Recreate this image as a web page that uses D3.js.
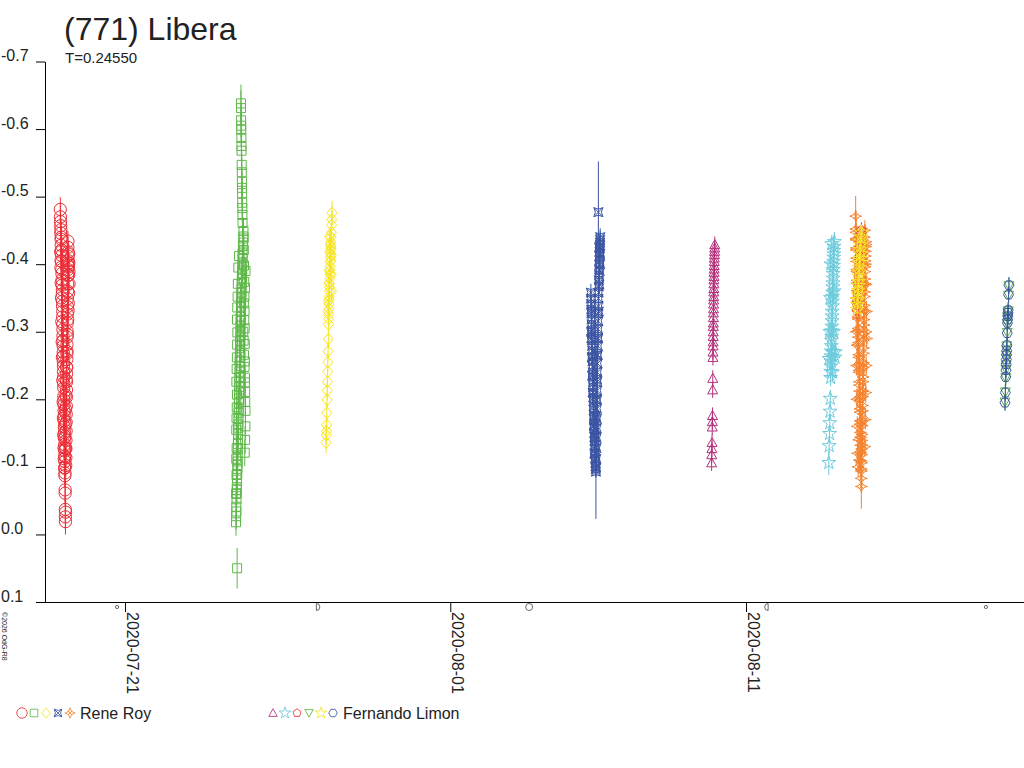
<!DOCTYPE html>
<meta charset="utf-8">
<style>
  body { margin: 0; background: #fff; }
  svg text { font-family: "Liberation Sans", Arial, sans-serif; fill: #222; }
  .bar { stroke-width: 1; }
  .pt { fill: none; stroke-width: 1; }
</style>
<svg width="1024" height="768"></svg>
<script src="https://d3js.org/d3.v7.min.js"></script>
<script>
  // ---- data: [hours after session start, relative magnitude, error] ----
  var title = "(771) Libera";
  var periodLabel = "T=0.24550";
  var observers = ["Rene Roy", "Fernando Limon"];
  var yTicks = [-0.7, -0.6, -0.5, -0.4, -0.3, -0.2, -0.1, 0.0, 0.1];
  var xTicks = ["2020-07-21", "2020-08-01", "2020-08-11"];
  var moonDates = ["2020-07-20T17:33Z", "2020-07-27T12:32Z", "2020-08-03T15:59Z", "2020-08-11T16:45Z", "2020-08-19T02:41Z"];
  var moonPhases = ["new", "first", "full", "last", "new"];

  var sessionStarts = ["2020-07-18T19:00Z", "2020-07-24T18:00Z", "2020-07-27T19:00Z", "2020-08-05T18:00Z", "2020-08-14T17:00Z",
                       "2020-08-09T20:00Z", "2020-08-13T19:00Z", "2020-08-14T18:00Z", "2020-08-19T18:00Z", "2020-08-14T18:00Z", "2020-08-19T18:00Z"];

  var roy1 = [[0.5,-0.481,.018],[0.6,-0.470,.017],[0.7,-0.463,.016],[0.8,-0.457,.016],[0.9,-0.446,.015],[1.0,-0.451,.016],[1.1,-0.437,.015],[1.2,-0.428,.015],
    [1.3,-0.440,.016],[1.4,-0.421,.015],[1.5,-0.413,.014],[1.6,-0.404,.015],[1.7,-0.392,.014],[1.8,-0.386,.015],[1.9,-0.377,.014],[2.0,-0.369,.014],
    [2.1,-0.356,.015],[2.15,-0.362,.014],[2.2,-0.345,.014],[2.3,-0.338,.015],[2.4,-0.322,.014],[2.45,-0.330,.015],[2.5,-0.311,.014],[2.6,-0.303,.015],
    [2.65,-0.294,.014],[2.7,-0.287,.014],[2.8,-0.279,.015],[2.85,-0.270,.014],[2.9,-0.264,.015],[3.0,-0.255,.014],[3.05,-0.249,.015],[3.1,-0.241,.014],
    [3.2,-0.233,.015],[3.25,-0.224,.014],[3.3,-0.217,.015],[3.4,-0.205,.015],[3.45,-0.199,.014],[3.5,-0.192,.015],[3.6,-0.183,.015],[3.65,-0.176,.015],
    [3.7,-0.168,.016],[3.8,-0.159,.015],[3.85,-0.151,.016],[3.9,-0.142,.016],[4.0,-0.133,.016],[4.05,-0.124,.016],[4.1,-0.116,.017],[4.2,-0.108,.016],
    [4.25,-0.099,.017],[4.3,-0.091,.017],[4.4,-0.066,.018],[4.45,-0.061,.018],[4.55,-0.037,.019],[4.6,-0.026,.019],[4.7,-0.019,.019],[4.8,-0.033,.018],
    [4.9,-0.102,.017],[5.0,-0.114,.016],[5.05,-0.127,.016],[5.1,-0.139,.016],[5.2,-0.153,.016],[5.25,-0.166,.015],[5.3,-0.178,.015],[5.4,-0.190,.015],
    [5.45,-0.203,.015],[5.5,-0.214,.015],[5.6,-0.226,.014],[5.65,-0.238,.014],[5.7,-0.247,.015],[5.8,-0.259,.014],[5.85,-0.268,.014],[5.9,-0.281,.014],
    [6.0,-0.292,.014],[6.05,-0.301,.014],[6.1,-0.313,.014],[6.2,-0.326,.014],[6.25,-0.337,.014],[6.3,-0.349,.014],[6.4,-0.360,.014],[6.45,-0.371,.014],
    [6.5,-0.383,.014],[6.6,-0.392,.015],[6.7,-0.401,.014],[6.8,-0.412,.015],[6.9,-0.418,.015],[7.0,-0.405,.014],[7.1,-0.396,.015],[7.2,-0.384,.015],
    [1.0,-0.395,.015],[1.2,-0.372,.015],[1.5,-0.350,.015],[1.7,-0.315,.015],[2.0,-0.285,.015],[2.2,-0.262,.015],[2.5,-0.228,.015],[2.8,-0.196,.015],
    [3.0,-0.172,.015],[3.3,-0.147,.016],[3.5,-0.128,.016],[3.7,-0.112,.016],[6.6,-0.425,.015],[6.7,-0.434,.015],[6.9,-0.398,.015],[7.3,-0.415,.015],
    [7.4,-0.402,.015],[7.5,-0.389,.015],[7.6,-0.371,.015],[7.3,-0.357,.015],[7.0,-0.342,.015],[6.8,-0.331,.015],[6.5,-0.318,.015],[6.2,-0.296,.015],
    [5.9,-0.271,.015],[5.5,-0.248,.015],[5.3,-0.229,.015],[5.0,-0.206,.015],[4.7,-0.185,.016],[4.5,-0.163,.016],[4.3,-0.145,.016],[4.6,-0.128,.016],
    [4.0,-0.098,.017],[4.2,-0.087,.017],[0.8,-0.418,.015],[1.1,-0.405,.015]];

  var roy2 = [[0.1,-0.018,.02],[0.2,-0.027,.02],[0.3,-0.041,.02],[0.4,-0.034,.02],[0.5,-0.052,.02],[0.6,-0.061,.02],[0.7,-0.070,.02],[0.8,-0.066,.02],
    [0.9,-0.081,.02],[1.0,0.050,.03],[1.1,-0.089,.02],[1.2,-0.097,.02],[1.3,-0.108,.02],[1.35,-0.103,.02],[1.45,-0.117,.02],[1.55,-0.126,.02],
    [1.6,-0.134,.02],[1.7,-0.141,.02],[1.8,-0.149,.02],[1.9,-0.158,.02],[2.0,-0.163,.02],[2.1,-0.171,.02],[2.2,-0.180,.02],[2.3,-0.186,.02],
    [2.4,-0.195,.02],[2.5,-0.201,.02],[2.6,-0.210,.02],[2.7,-0.218,.02],[2.75,-0.226,.02],[2.85,-0.233,.02],[2.95,-0.241,.02],[3.05,-0.249,.02],
    [3.1,-0.256,.02],[3.2,-0.263,.02],[3.3,-0.271,.02],[3.4,-0.279,.02],[3.5,-0.286,.02],[3.55,-0.293,.02],[3.65,-0.301,.02],[3.75,-0.309,.02],
    [4.1,-0.638,.028],[4.15,-0.631,.026],[4.2,-0.613,.025],[4.3,-0.605,.025],[4.35,-0.599,.025],[4.45,-0.587,.024],[4.5,-0.575,.024],[4.6,-0.568,.024],
    [4.7,-0.547,.023],[4.8,-0.536,.023],[4.85,-0.522,.022],[4.95,-0.513,.022],[5.0,-0.505,.022],[5.1,-0.491,.022],[5.2,-0.483,.021],[5.3,-0.473,.021],
    [5.4,-0.461,.021],[3.85,-0.316,.02],[3.95,-0.322,.02],[4.05,-0.330,.02],[4.15,-0.337,.02],[4.25,-0.343,.02],[4.35,-0.351,.02],[4.5,-0.358,.02],
    [4.6,-0.364,.02],[4.7,-0.372,.02],[4.85,-0.379,.02],[5.0,-0.385,.02],[5.1,-0.392,.02],[5.25,-0.401,.02],[5.4,-0.416,.02],[5.55,-0.409,.02],
    [5.7,-0.427,.02],[5.85,-0.432,.02],[6.0,-0.441,.02],[6.15,-0.449,.02],[6.3,-0.438,.02],[6.45,-0.421,.02],[6.6,-0.398,.02],[6.75,-0.374,.02],
    [6.9,-0.352,.02],[7.0,-0.331,.02],[7.1,-0.305,.02],[7.2,-0.282,.02],[7.3,-0.256,.02],[7.4,-0.232,.02],[7.5,-0.211,.02],
    [0.3,-0.155,.02],[0.5,-0.172,.02],[0.7,-0.188,.02],[0.9,-0.207,.02],[0.4,-0.226,.02],[0.6,-0.245,.02],[0.8,-0.262,.02],[1.0,-0.281,.02],
    [1.2,-0.299,.02],[0.9,-0.318,.02],[1.1,-0.336,.02],[1.4,-0.352,.02],[1.6,-0.371,.02],[6.0,-0.300,.02],[6.3,-0.287,.02],[6.6,-0.266,.02],
    [7.0,-0.248,.02],[7.3,-0.225,.02],[7.6,-0.196,.02],[7.8,-0.183,.02],[7.7,-0.160,.02],[7.5,-0.140,.02],[7.2,-0.121,.02],[6.8,-0.317,.02],
    [6.5,-0.342,.02],[7.4,-0.365,.02],[7.8,-0.390,.02],[0.2,-0.060,.02],[0.5,-0.088,.02],[0.3,-0.112,.02],[0.6,-0.128,.02],[2.0,-0.395,.02],
    [2.5,-0.412,.02]];

  var roy3 = [[0.1,-0.136,.016],[0.3,-0.147,.015],[0.45,-0.153,.015],[0.6,-0.162,.015],[0.8,-0.180,.015],[1.0,-0.199,.014],[1.15,-0.213,.014],
    [1.3,-0.226,.014],[1.45,-0.241,.014],[1.6,-0.255,.014],[1.8,-0.271,.014],[2.0,-0.289,.014],[2.15,-0.311,.013],[2.25,-0.319,.013],[2.35,-0.326,.013],
    [2.45,-0.334,.013],[2.55,-0.341,.013],[2.65,-0.348,.013],[2.75,-0.352,.013],[2.85,-0.360,.013],[2.95,-0.366,.013],[3.05,-0.371,.013],[3.15,-0.379,.013],
    [3.25,-0.385,.013],[3.35,-0.392,.013],[3.45,-0.397,.013],[3.55,-0.404,.013],[3.65,-0.410,.013],[3.75,-0.416,.013],[3.85,-0.421,.013],[3.95,-0.427,.013],
    [4.05,-0.433,.013],[4.15,-0.440,.013],[4.25,-0.424,.013],[4.35,-0.413,.013],[4.5,-0.447,.014],[4.65,-0.458,.014],[4.8,-0.466,.015],[5.0,-0.476,.018],
    [2.0,-0.345,.013],[2.4,-0.372,.013],[2.8,-0.390,.013],[3.2,-0.418,.013],[3.6,-0.430,.013],[4.0,-0.405,.013],[4.4,-0.385,.013],[1.8,-0.330,.013],
    [4.6,-0.360,.013],[3.0,-0.441,.013]];

  var roy4 = [[0.1,-0.358,.013],[0.2,-0.349,.013],[0.3,-0.341,.013],[0.4,-0.333,.013],[0.5,-0.327,.013],[0.6,-0.318,.013],[0.7,-0.311,.013],
    [0.8,-0.302,.013],[0.9,-0.296,.013],[1.0,-0.287,.013],[1.1,-0.279,.013],[1.2,-0.272,.013],[1.3,-0.263,.013],[1.4,-0.256,.013],[1.5,-0.248,.013],
    [1.6,-0.240,.013],[1.7,-0.233,.013],[1.8,-0.225,.013],[1.9,-0.218,.013],[2.0,-0.210,.013],[2.1,-0.203,.013],[2.2,-0.197,.013],[2.3,-0.190,.013],
    [2.4,-0.184,.013],[2.5,-0.176,.013],[2.6,-0.170,.013],[2.7,-0.163,.013],[2.8,-0.157,.013],[2.9,-0.150,.013],[3.0,-0.144,.013],[3.1,-0.138,.013],
    [3.2,-0.131,.013],[3.3,-0.126,.013],[3.45,-0.119,.013],[3.6,-0.112,.013],[3.75,-0.106,.013],[3.9,-0.101,.013],[4.05,-0.097,.013],[4.2,-0.093,.07],
    [4.35,-0.099,.013],[4.5,-0.112,.013],[4.6,-0.128,.013],[4.7,-0.143,.013],[4.8,-0.157,.013],[4.9,-0.171,.013],[5.0,-0.186,.013],[5.1,-0.199,.013],
    [5.2,-0.213,.013],[5.3,-0.226,.013],[5.4,-0.240,.013],[5.5,-0.253,.013],[5.6,-0.266,.013],[5.7,-0.279,.013],[5.8,-0.291,.013],[5.9,-0.304,.013],
    [6.0,-0.316,.013],[6.1,-0.327,.013],[6.2,-0.338,.013],[6.3,-0.349,.013],[6.4,-0.358,.013],[6.5,-0.367,.013],[6.6,-0.376,.013],[6.7,-0.384,.013],
    [6.8,-0.392,.013],[6.9,-0.399,.013],[7.0,-0.406,.013],[7.1,-0.412,.013],[7.2,-0.418,.013],[7.3,-0.423,.013],[7.4,-0.428,.013],[7.5,-0.432,.013],
    [7.6,-0.436,.013],[7.7,-0.440,.013],[6.2,-0.477,.075],
    [0.5,-0.290,.013],[0.8,-0.262,.013],[1.2,-0.235,.013],[1.5,-0.210,.013],[1.0,-0.330,.013],[0.3,-0.300,.013],[2.5,-0.160,.013],[3.0,-0.120,.013],
    [3.5,-0.145,.013],[4.0,-0.175,.013],[4.5,-0.200,.013],[5.0,-0.230,.013],[5.5,-0.265,.013],[6.0,-0.290,.013],[6.5,-0.330,.013],[7.0,-0.370,.013],
    [7.5,-0.400,.013],[7.2,-0.390,.013],[6.8,-0.425,.013],[7.6,-0.415,.013]];

  var roy5 = [[0.0,-0.471,.03],[0.1,-0.452,.025],[0.2,-0.447,.02],[0.3,-0.436,.025],[0.4,-0.438,.015],[0.5,-0.421,.015],[0.6,-0.424,.015],[0.7,-0.409,.015],
    [0.8,-0.404,.015],[0.9,-0.392,.015],[1.0,-0.389,.015],[1.1,-0.376,.015],[1.2,-0.372,.015],[1.3,-0.361,.015],[1.4,-0.358,.015],[1.5,-0.343,.015],
    [1.6,-0.345,.015],[1.7,-0.331,.015],[1.8,-0.322,.015],[1.9,-0.319,.015],[2.0,-0.305,.015],[2.1,-0.301,.015],[2.2,-0.292,.015],[2.3,-0.284,.015],
    [2.4,-0.281,.015],[2.5,-0.266,.015],[2.6,-0.262,.015],[2.7,-0.251,.015],[2.8,-0.243,.015],[2.9,-0.240,.015],[3.0,-0.226,.015],[3.1,-0.221,.015],
    [3.2,-0.212,.015],[3.3,-0.203,.015],[3.4,-0.199,.015],[3.5,-0.186,.015],[3.6,-0.181,.015],[3.7,-0.168,.015],[3.8,-0.163,.015],[3.9,-0.151,.015],
    [4.0,-0.144,.015],[4.1,-0.132,.015],[4.2,-0.121,.015],[4.3,-0.109,.015],[4.4,-0.097,.016],[4.5,-0.083,.018],[4.6,-0.071,.033],[4.7,-0.094,.016],
    [4.8,-0.106,.015],[4.9,-0.118,.015],[5.0,-0.127,.015],[5.1,-0.139,.015],[5.2,-0.148,.015],[5.3,-0.161,.015],[5.4,-0.169,.015],[5.5,-0.183,.015],
    [5.6,-0.191,.015],[5.7,-0.204,.015],[5.8,-0.212,.015],[5.9,-0.226,.015],[6.0,-0.233,.015],[6.1,-0.247,.015],[6.2,-0.254,.015],[6.3,-0.268,.015],
    [6.4,-0.276,.015],[6.5,-0.289,.015],[6.6,-0.297,.015],[6.7,-0.310,.015],[6.8,-0.318,.015],[6.9,-0.331,.015],[7.0,-0.339,.015],[7.1,-0.352,.015],
    [7.2,-0.359,.015],[7.3,-0.371,.015],[7.4,-0.378,.015],[7.5,-0.389,.015],[7.6,-0.396,.02],[7.7,-0.405,.02],[7.8,-0.412,.025],[7.9,-0.419,.02],
    [8.0,-0.426,.025],[8.2,-0.433,.02],[8.4,-0.429,.015],
    [0.5,-0.300,.015],[0.8,-0.250,.015],[1.0,-0.200,.015],[1.3,-0.160,.015],[1.6,-0.120,.015],[2.0,-0.100,.015],[0.3,-0.350,.015],[1.2,-0.280,.015],
    [2.5,-0.140,.015],[3.0,-0.110,.015],[6.0,-0.400,.015],[6.5,-0.420,.015],[7.0,-0.440,.015],[7.5,-0.450,.015],[8.0,-0.400,.015],[8.5,-0.370,.015],
    [8.8,-0.330,.015],[9.0,-0.290,.015],[8.6,-0.250,.015],[8.2,-0.210,.015],[7.8,-0.170,.015],[7.4,-0.130,.015],[8.4,-0.300,.015],[6.3,-0.370,.015]];

  var limon1 = [[0.1,-0.106,.012],[0.2,-0.118,.012],[0.3,-0.127,.012],[0.45,-0.136,.012],[0.6,-0.159,.012],[0.7,-0.167,.012],[0.8,-0.176,.012],
    [0.95,-0.214,.012],[1.05,-0.231,.012],[1.15,-0.262,.012],[1.2,-0.270,.012],[1.25,-0.279,.012],[1.3,-0.285,.012],[1.35,-0.293,.012],[1.4,-0.300,.012],
    [1.45,-0.308,.012],[1.5,-0.313,.012],[1.55,-0.321,.012],[1.6,-0.328,.012],[1.65,-0.334,.012],[1.7,-0.341,.012],[1.75,-0.347,.012],[1.8,-0.352,.012],
    [1.85,-0.359,.012],[1.9,-0.364,.012],[1.95,-0.371,.012],[2.0,-0.377,.012],[2.05,-0.382,.012],[2.1,-0.388,.012],[2.15,-0.393,.012],[2.2,-0.398,.012],
    [2.25,-0.404,.012],[2.3,-0.409,.012],[2.4,-0.414,.012],[2.5,-0.419,.012],[2.6,-0.424,.012],[2.7,-0.429,.012]];

  var limon2 = [[0.2,-0.106,.018],[0.5,-0.131,.013],[0.8,-0.149,.013],[1.0,-0.165,.013],[1.2,-0.182,.013],[1.4,-0.201,.013],[1.7,-0.232,.013],
    [1.8,-0.241,.013],[1.9,-0.249,.013],[2.0,-0.256,.013],[2.1,-0.264,.013],[2.2,-0.271,.013],[2.3,-0.279,.013],[2.4,-0.287,.013],[2.5,-0.293,.013],
    [2.6,-0.301,.013],[2.7,-0.308,.013],[2.8,-0.316,.013],[2.9,-0.323,.013],[3.0,-0.330,.013],[3.1,-0.338,.013],[3.2,-0.345,.013],[3.3,-0.352,.013],
    [3.4,-0.358,.013],[3.5,-0.366,.013],[3.6,-0.372,.013],[3.7,-0.379,.013],[3.8,-0.386,.013],[3.9,-0.392,.013],[4.0,-0.398,.013],[4.1,-0.404,.013],
    [4.2,-0.410,.013],[4.3,-0.415,.013],[4.4,-0.420,.013],[4.5,-0.426,.013],[4.7,-0.433,.015],
    [0.5,-0.260,.013],[1.0,-0.300,.013],[1.5,-0.350,.013],[2.0,-0.400,.013],[3.5,-0.270,.013],[4.0,-0.300,.013],[4.5,-0.360,.013],[2.6,-0.430,.013],
    [3.2,-0.240,.013],[5.2,-0.262,.013],[5.5,-0.270,.013]];

  var limon3 = [[0.1,-0.331,.012],[0.3,-0.339,.012],[0.5,-0.344,.012],[0.7,-0.353,.012],[0.9,-0.358,.012],[1.1,-0.367,.012],[1.3,-0.371,.012],
    [1.5,-0.380,.012],[1.7,-0.385,.012],[1.9,-0.394,.012],[2.1,-0.398,.012],[2.3,-0.407,.012],[2.5,-0.411,.012],[2.7,-0.420,.012],[2.9,-0.424,.012],
    [3.1,-0.433,.012],[3.3,-0.437,.012],[3.5,-0.445,.012],[3.7,-0.450,.012]];

  var limon4 = [[0.2,-0.196,.012],[0.5,-0.211,.012],[0.8,-0.232,.012],[1.0,-0.244,.012],[1.15,-0.251,.012],[1.3,-0.260,.012],[1.45,-0.265,.012],
    [1.6,-0.273,.012],[1.75,-0.279,.012],[2.0,-0.299,.012],[2.2,-0.312,.012],[2.35,-0.319,.012],[2.5,-0.322,.012],[2.65,-0.329,.012],[2.8,-0.331,.012],
    [3.1,-0.354,.012],[3.4,-0.368,.012]];

  var limon5 = [[0.2,-0.333,.012],[0.4,-0.340,.012],[0.6,-0.347,.012],[0.8,-0.355,.012],[1.0,-0.361,.012],[1.2,-0.368,.012],[1.4,-0.374,.012],
    [1.6,-0.382,.012],[1.8,-0.388,.012],[2.0,-0.395,.012],[2.2,-0.402,.012],[2.4,-0.408,.012],[2.6,-0.415,.012],[2.8,-0.421,.012],[3.0,-0.428,.012],
    [3.2,-0.434,.012],[3.4,-0.440,.012],[3.6,-0.447,.012]];

  var limon6 = [[0.2,-0.195,.012],[0.5,-0.210,.012],[0.8,-0.233,.012],[1.0,-0.243,.012],[1.15,-0.252,.012],[1.3,-0.259,.012],[1.45,-0.266,.012],
    [1.6,-0.272,.012],[1.75,-0.280,.012],[2.0,-0.298,.012],[2.2,-0.313,.012],[2.35,-0.318,.012],[2.5,-0.323,.012],[2.65,-0.328,.012],[2.8,-0.332,.012],
    [3.1,-0.355,.012],[3.4,-0.369,.012]];

  // ---- styling (kept apart from the values) ----
  var series = [
    { obs: 0, data: roy1, start: sessionStarts[0], shape: "circle", color: "#ec2d36" },
    { obs: 0, data: roy2, start: sessionStarts[1], shape: "square", color: "#5fb84a" },
    { obs: 0, data: roy3, start: sessionStarts[2], shape: "diamond", color: "#f7e625" },
    { obs: 0, data: roy4, start: sessionStarts[3], shape: "astroid", color: "#3b55a3" },
    { obs: 0, data: roy5, start: sessionStarts[4], shape: "spark", color: "#f5822c" },
    { obs: 1, data: limon1, start: sessionStarts[5], shape: "triangle", color: "#b5307c" },
    { obs: 1, data: limon2, start: sessionStarts[6], shape: "star", color: "#6ccbdc" },
    { obs: 1, data: limon3, start: sessionStarts[7], shape: "pentagon", color: "#e8303a" },
    { obs: 1, data: limon4, start: sessionStarts[8], shape: "triangleDown", color: "#5fb84a" },
    { obs: 1, data: limon5, start: sessionStarts[9], shape: "star", color: "#f7e625" },
    { obs: 1, data: limon6, start: sessionStarts[10], shape: "hexagon", color: "#3b55a3" }
  ];

  var svg = d3.select("svg");

  var x = d3.scaleUtc()
    .domain([new Date("2020-07-21T00:00Z"), new Date("2020-08-11T00:00Z")])
    .range([125, 746]);
  var y = d3.scaleLinear().domain([-0.7, 0.1]).range([61.5, 602]);

  function polygon(n, r, rot) {
    return "M" + d3.range(n).map(function(i) {
      var a = (rot + i * 360 / n) * Math.PI / 180;
      return (r * Math.cos(a)).toFixed(2) + "," + (r * Math.sin(a)).toFixed(2);
    }).join("L") + "Z";
  }

  function shapePath(kind) {
    switch (kind) {
      case "circle": return d3.symbol(d3.symbolCircle, 118)();
      case "square": return "M-4.5,-4.5h9v9h-9Z";
      case "diamond": return "M0,-6L5,0L0,6L-5,0Z";
      case "astroid": return "M-4.5,-4.5Q0,-1.5 4.5,-4.5Q1.5,0 4.5,4.5Q0,1.5 -4.5,4.5Q-1.5,0 -4.5,-4.5ZM-4.5,-4.5L4.5,4.5M4.5,-4.5L-4.5,4.5";
      case "spark": return "M0,-6Q0.7,-0.7 6,0Q0.7,0.7 0,6Q-0.7,0.7 -6,0Q-0.7,-0.7 0,-6ZM-2.5,-2.5L2.5,2.5M2.5,-2.5L-2.5,2.5";
      case "triangle": return "M0,-5L5,4L-5,4Z";
      case "triangleDown": return "M0,5L5,-4L-5,-4Z";
      case "star": return d3.symbol(d3.symbolStar, 60)();
      case "pentagon": return polygon(5, 5, -90);
      case "hexagon": return polygon(6, 5, 0);
    }
  }

  function when(s, h) {
    return new Date(new Date(s.start).getTime() + h * 3600e3);
  }

  // ---- axes ----
  var yAxis = svg.append("g")
    .attr("transform", "translate(45,0)")
    .call(d3.axisLeft(y).tickValues(yTicks).tickSize(9).tickSizeOuter(0).tickFormat(d3.format(".1f")));
  yAxis.select(".domain").attr("stroke", "#000");
  yAxis.selectAll(".tick line").attr("stroke", "#000");
  yAxis.selectAll(".tick text")
    .attr("text-anchor", "start")
    .attr("x", -44)
    .attr("dy", "-1")
    .attr("font-size", 16)
    .attr("font-family", "Liberation Sans, Arial, sans-serif")
    .text(function(d) { return d3.format(".1f")(d).replace("−", "-"); });

  var xAxis = svg.append("g")
    .attr("transform", "translate(0,602)")
    .call(d3.axisBottom(x).tickValues(xTicks.map(function(d) { return new Date(d + "T00:00Z"); }))
      .tickSize(10).tickSizeOuter(0).tickFormat(d3.utcFormat("%Y-%m-%d")));
  xAxis.select(".domain").remove();
  xAxis.selectAll(".tick line").attr("stroke", "#000");
  xAxis.selectAll(".tick text")
    .attr("transform", "rotate(90)")
    .attr("text-anchor", "start")
    .attr("x", 10)
    .attr("y", -1)
    .attr("dy", 0)
    .attr("font-size", 16)
    .attr("font-family", "Liberation Sans, Arial, sans-serif");
  svg.append("line")
    .attr("x1", 36).attr("x2", 1024).attr("y1", 602.5).attr("y2", 602.5)
    .attr("stroke", "#000");

  // moon phase marks under the axis
  var moon = svg.append("g").attr("fill", "none").attr("stroke", "#444").attr("stroke-width", 0.8);
  moonDates.forEach(function(d, i) {
    var cx = x(new Date(d)), cy = 607, p = moonPhases[i];
    if (p === "new") moon.append("circle").attr("cx", cx).attr("cy", cy).attr("r", 1.6);
    if (p === "full") moon.append("circle").attr("cx", cx).attr("cy", cy).attr("r", 3.5);
    if (p === "first") moon.append("path").attr("d", "M" + (cx - 1.5) + "," + (cy - 3.5) + "a3.5,3.5 0 0 1 0,7Z");
    if (p === "last") moon.append("path").attr("d", "M" + (cx + 1.5) + "," + (cy - 3.5) + "a3.5,3.5 0 0 0 0,7Z");
  });

  // ---- observations ----
  series.forEach(function(s) {
    var g = svg.append("g");
    g.selectAll("line")
      .data(s.data)
      .enter().append("line")
      .attr("class", "bar")
      .attr("stroke", s.color)
      .attr("x1", function(d) { return x(when(s, d[0])); })
      .attr("x2", function(d) { return x(when(s, d[0])); })
      .attr("y1", function(d) { return y(d[1] - d[2]); })
      .attr("y2", function(d) { return y(d[1] + d[2]); });
    g.selectAll("path")
      .data(s.data)
      .enter().append("path")
      .attr("class", "pt")
      .attr("stroke", s.color)
      .attr("d", shapePath(s.shape))
      .attr("transform", function(d) {
        return "translate(" + x(when(s, d[0])) + "," + y(d[1]) + ")";
      });
  });

  // ---- titles ----
  svg.append("text").attr("x", 64).attr("y", 40).attr("font-size", 32).text(title);
  svg.append("text").attr("x", 65).attr("y", 63).attr("font-size", 15).text(periodLabel);
  svg.append("text")
    .attr("transform", "translate(2,612) rotate(90)")
    .attr("font-size", 7)
    .text("\u00a92026 OdG-R8");

  // ---- legend ----
  var legendX = [22, 273];
  observers.forEach(function(name, o) {
    var items = series.filter(function(s) { return s.obs === o; });
    items.forEach(function(s, i) {
      svg.append("path")
        .attr("class", "pt")
        .attr("stroke", s.color)
        .attr("d", shapePath(s.shape))
        .attr("transform", "translate(" + (legendX[o] + i * 12) + ",713) scale(0.85)");
    });
    svg.append("text")
      .attr("x", legendX[o] + items.length * 12 - 2)
      .attr("y", 719)
      .attr("font-size", 16)
      .text(name);
  });
</script>
